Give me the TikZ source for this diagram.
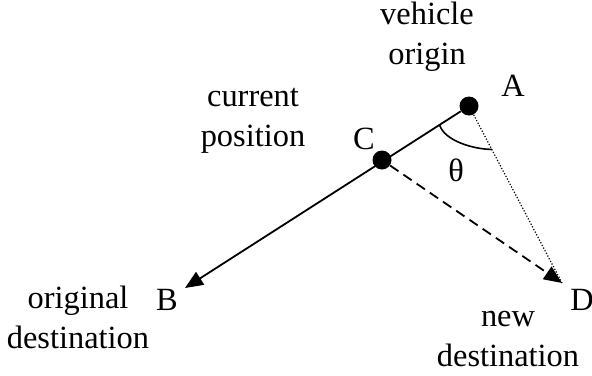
\documentclass[tikz,border=0pt]{standalone}
\usepackage{fontspec}
\setmainfont{Liberation Serif}
\usetikzlibrary{arrows.meta,calc}

\begin{document}
\begin{tikzpicture}[
      x=0.5pt, y=-0.5pt,
      every node/.style={font=\fontsize{16.2}{20}\selectfont},
      dot/.style={circle,fill=black,inner sep=0pt,minimum size=9.5pt},
      txt/.style={align=center,inner sep=0pt},
      arr/.style={-{Triangle[length=9pt,width=7.5pt]}},
      route/.style={arr,line width=0.9pt},
      detour/.style={arr,line width=0.9pt,dash pattern=on 5pt off 3pt},
      direct/.style={line width=0.6pt,dash pattern=on 0.6pt off 0.9pt},
      angarc/.style={line width=0.8pt},
    ]
    \useasboundingbox (0,0) rectangle (592,375);

    % --- Points ---
    \node[dot] (A) at (469,106) {};
    \node[dot] (C) at (382,160) {};
    \coordinate (B) at (185,288);
    \coordinate (D) at (562,283);

    % --- Labels ---
    \node[txt] (labA) at (513,86) {A};
    \node[txt] (labC) at (364,139) {C};
    \node[txt] (labB) at (167,300) {B};
    \node[txt] (labD) at (582,300) {D};
    \node[txt] (origin) at (427,37) {vehicle\\origin};
    \node[txt] (current) at (253,121) {current\\position};
    \node[txt] (orig) at (78,317) {original\\destination};
    \node[txt] (newdest) at (508,339) {new\\destination};
    \node[txt] (theta) at (456,170) {θ};

    % --- Routes ---
    \draw[route] (A) -- (B);
    \draw[detour] (C) -- (D);
    \draw[direct] (A) -- (D);

    % --- Angle ---
    \coordinate (arcS) at ($(A)!17.5pt!(B)$);
    \coordinate (arcE) at ($(A)!24.5pt!(D)$);
    \draw[angarc] (arcS) .. controls +(5,16) and +(-18,0) .. (arcE);

  \end{tikzpicture}
\end{document}
